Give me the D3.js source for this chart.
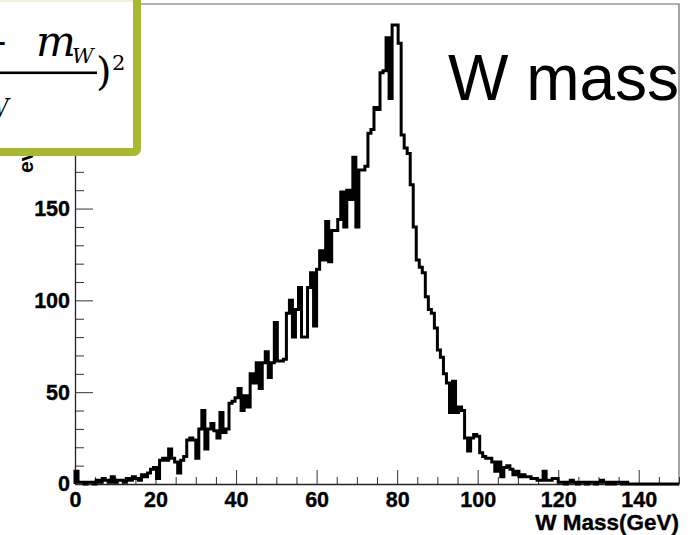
<!DOCTYPE html>
<html>
<head>
<meta charset="utf-8">
<script src="https://cdn.jsdelivr.net/npm/d3@7/dist/d3.min.js"></script>
<style>
  html, body { margin: 0; padding: 0; background: #fff; }
  svg { display: block; }
</style>
</head>
<body>
<svg id="chart" width="692" height="535"></svg>
<script>
// Reconstructed W-boson invariant mass histogram, 200 bins of 0.75 GeV from 0 to 150 GeV
const binLow = 0;
const binHigh = 150;
const binWidth = 0.75;
const counts = [
  7, 1, 1, 0, 1, 1, 0, 2, 1, 3,
  2, 1, 4, 1, 2, 2, 1, 3, 2, 4,
  3, 2, 5, 4, 6, 8, 9, 3, 13, 14,
  13, 19, 14, 12, 6, 13, 15, 24, 25, 24,
  14, 30, 40, 19, 30, 33, 29, 25, 39, 28,
  30, 44, 45, 47, 52, 40, 48, 42, 60, 55,
  66, 52, 66, 72, 58, 66, 88, 67, 67, 68,
  93, 100, 80, 95, 107, 80, 80, 107, 115, 86,
  117, 127, 122, 143, 121, 138, 138, 144, 159, 140,
  160, 155, 178, 140, 171, 171, 173, 191, 193, 205,
  204, 224, 225, 243, 210, 250, 250, 240, 190, 183,
  180, 163, 140, 122, 118, 115, 102, 95, 93, 85,
  73, 69, 60, 55, 39, 56, 39, 42, 40, 25,
  18, 25, 27, 26, 17, 15, 14, 14, 12, 7,
  12, 4, 9, 10, 8, 5, 7, 4, 5, 4,
  4, 3, 3, 2, 2, 7, 2, 2, 3, 3,
  1, 1, 0, 1, 2, 1, 0, 1, 1, 0,
  1, 1, 0, 1, 2, 1, 0, 1, 0, 1,
  1, 0, 1, 0, 0, 0, 0, 0, 0, 0,
  0, 0, 0, 0, 0, 0, 0, 0, 0, 0
];
const xMajorTicks = [0, 20, 40, 60, 80, 100, 120, 140];
const yMajorTicks = [0, 50, 100, 150, 200, 250];
const xTitle = "W Mass(GeV)";
const yTitle = "events";
const plotLabel = "W mass";

const svg = d3.select("#chart");
const W = 692, H = 535;
const frame = { left: 75, right: 679, top: 4, bottom: 484 };
const yMax = 261.4;

const x = d3.scaleLinear().domain([binLow, binHigh]).range([frame.left, frame.right]);
const y = d3.scaleLinear().domain([0, yMax]).range([frame.bottom, frame.top]);

const sansBold = "Liberation Sans, Arial, sans-serif";

svg.append("rect").attr("width", W).attr("height", H).attr("fill", "#fff");

// Y axis title (rotated, partly hidden beneath the formula box)
svg.append("text")
  .attr("transform", `translate(33,173) rotate(-90)`)
  .attr("font-family", sansBold)
  .attr("font-weight", "bold")
  .attr("font-size", 21)
  .attr("fill", "#000")
  .text(yTitle);

// Frame (top and right edges)
svg.append("path")
  .attr("d", `M${frame.left},${frame.top}H${frame.right}V${frame.bottom}`)
  .attr("fill", "none").attr("stroke", "#6a6a6a").attr("stroke-width", 1.2);

const tickFont = g => g.selectAll("text")
  .attr("font-family", sansBold)
  .attr("font-weight", "bold")
  .attr("font-size", 21.5)
  .attr("fill", "#000")
  .attr("stroke", "#000")
  .attr("stroke-width", 0.35);

// X axis: major every 20, minor every 5, ticks pointing into the frame
const xMinor = d3.range(0, binHigh + 0.001, 5).filter(v => v % 20 !== 0);
svg.append("g")
  .attr("transform", `translate(0,${frame.bottom})`)
  .call(d3.axisBottom(x).tickValues(xMinor).tickSize(-7).tickSizeOuter(0).tickFormat(""))
  .call(g => g.select(".domain").remove())
  .call(g => g.selectAll("line").attr("stroke", "#333"));
svg.append("g")
  .attr("transform", `translate(0,${frame.bottom})`)
  .call(d3.axisBottom(x).tickValues(xMajorTicks).tickSize(-14).tickSizeOuter(0).tickPadding(8).tickFormat(d3.format("d")))
  .call(g => g.select(".domain").attr("stroke", "#222").attr("stroke-width", 1.5))
  .call(g => g.selectAll("line").attr("stroke", "#333"))
  .call(tickFont);

// Y axis: major every 50, minor every 10
const yMinor = d3.range(0, yMax, 10).filter(v => v % 50 !== 0);
svg.append("g")
  .attr("transform", `translate(${frame.left},0)`)
  .call(d3.axisLeft(y).tickValues(yMinor).tickSize(-9).tickSizeOuter(0).tickFormat(""))
  .call(g => g.select(".domain").remove())
  .call(g => g.selectAll("line").attr("stroke", "#333"));
svg.append("g")
  .attr("transform", `translate(${frame.left},0)`)
  .call(d3.axisLeft(y).tickValues(yMajorTicks).tickSize(-18).tickSizeOuter(0).tickPadding(5).tickFormat(d3.format("d")))
  .call(g => g.select(".domain").attr("stroke", "#222").attr("stroke-width", 1.3))
  .call(g => g.selectAll("line").attr("stroke", "#333"))
  .call(tickFont);

// X axis title, right aligned at the frame edge
svg.append("text")
  .attr("x", frame.right).attr("y", 530)
  .attr("text-anchor", "end")
  .attr("font-family", sansBold)
  .attr("font-weight", "bold")
  .attr("font-size", 22.5)
  .attr("fill", "#000")
  .attr("stroke", "#000")
  .attr("stroke-width", 0.35)
  .text(xTitle);

// Histogram outline
const pts = [{ m: binLow, v: 0 }];
counts.forEach((c, i) => pts.push({ m: binLow + i * binWidth, v: c }));
pts.push({ m: binHigh, v: counts[counts.length - 1] });
pts.push({ m: binHigh, v: 0 });
const line = d3.line().x(d => x(d.m)).y(d => y(d.v)).curve(d3.curveStepAfter);
svg.append("path")
  .attr("d", line(pts))
  .attr("fill", "none")
  .attr("stroke", "#000")
  .attr("stroke-width", 3)
  .attr("stroke-linejoin", "miter");

// Large label
svg.append("text")
  .attr("x", 448).attr("y", 100)
  .attr("font-family", "Liberation Sans, Arial, sans-serif")
  .attr("font-size", 64)
  .attr("fill", "#000")
  .text(plotLabel);

// Formula box overlay: ((m_jj - m_W) / sigma_W)^2, left part runs off the page
const box = svg.append("g");
box.append("rect")
  .attr("x", -10).attr("y", -10).attr("width", 147).attr("height", 162)
  .attr("rx", 3)
  .attr("fill", "#fff").attr("stroke", "#a8b830").attr("stroke-width", 8);
box.append("rect").attr("x", 0).attr("y", 0).attr("width", 133).attr("height", 2).attr("fill", "#eef2d2");

const mathFont = "DejaVu Serif, Liberation Serif, serif";
box.append("text").attr("x", 9).attr("y", 56).attr("text-anchor", "end")
  .attr("font-family", mathFont).attr("font-size", 40).text("\u2212");
box.append("text").attr("x", 36).attr("y", 56)
  .attr("font-family", mathFont).attr("font-style", "italic").attr("font-size", 42).text("m");
box.append("text").attr("x", 72).attr("y", 63)
  .attr("font-family", mathFont).attr("font-style", "italic").attr("font-size", 21).text("W");
box.append("rect").attr("x", -5).attr("y", 71.5).attr("width", 102).attr("height", 2.6).attr("fill", "#000");
box.append("text").attr("x", 96).attr("y", 85)
  .attr("font-family", mathFont).attr("font-size", 40).text(")");
box.append("text").attr("x", 112).attr("y", 70)
  .attr("font-family", mathFont).attr("font-size", 21).text("2");
box.append("text").attr("x", 9).attr("y", 117).attr("text-anchor", "end")
  .attr("font-family", mathFont).attr("font-style", "italic").attr("font-size", 26).text("W");
</script>
</body>
</html>
